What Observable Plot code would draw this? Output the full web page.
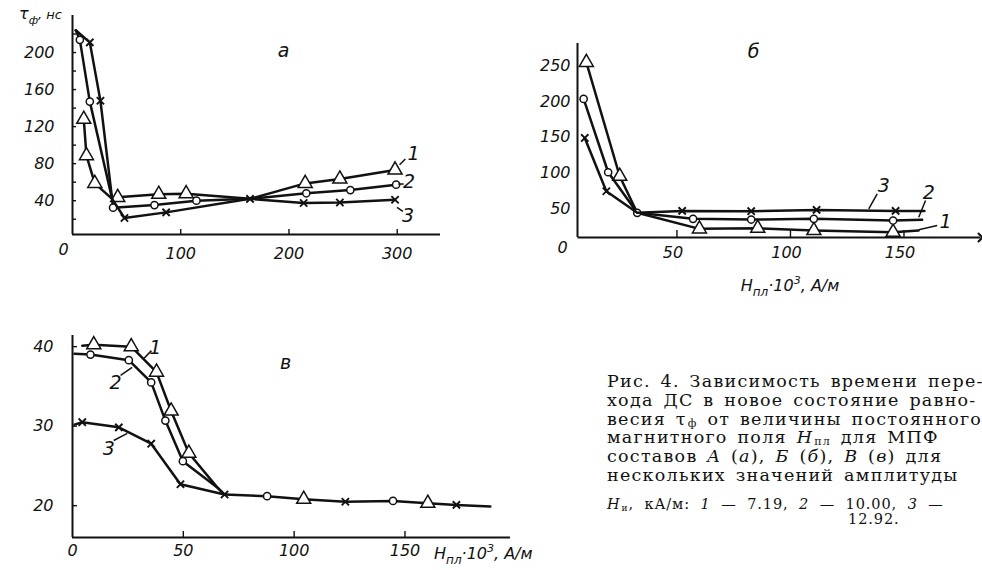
<!DOCTYPE html>
<html><head><meta charset="utf-8">
<script src="https://cdn.jsdelivr.net/npm/d3@7"></script>
<script src="https://cdn.jsdelivr.net/npm/@observablehq/plot@0.6"></script>
<style>
html,body{margin:0;padding:0;background:#fff;overflow:hidden;}
#wrap{position:relative;width:982px;height:570px;overflow:hidden;background:#fff;}
.panel{position:absolute;}
#caption{position:absolute;left:607px;top:372px;font-family:"DejaVu Serif",serif;font-size:17.5px;line-height:18.8px;color:#111;white-space:nowrap;letter-spacing:1.25px;word-spacing:3px;}
#caption .i{font-style:italic;}
#caption sub{font-size:11px;vertical-align:-2px;line-height:0;margin-left:1px;}
#note{position:absolute;left:607px;top:497px;font-family:"DejaVu Serif",serif;font-size:14.5px;line-height:15px;color:#111;white-space:nowrap;letter-spacing:0.9px;word-spacing:5px;}
#note sub{font-size:9px;vertical-align:-2px;line-height:0;margin-left:1px;}
</style></head>
<body><div id="wrap">
<div id="pa" class="panel" style="left:0;top:0"></div>
<div id="pb" class="panel" style="left:500px;top:0"></div>
<div id="pc" class="panel" style="left:0;top:320px"></div>
<div id="caption">
<div>Рис. 4. Зависимость времени пере-</div>
<div>хода ДС в новое состояние равно-</div>
<div>весия τ<sub>ф</sub> от величины постоянного</div>
<div>магнитного поля <span class="i">H</span><sub>пл</sub> для МПФ</div>
<div>составов <span class="i">A</span> (<span class="i">а</span>), <span class="i">Б</span> (<span class="i">б</span>), <span class="i">В</span> (<span class="i">в</span>) для</div>
<div>нескольких значений амплитуды</div>
</div>
<div id="note">
<div><i>H</i><sub>и</sub>, кА/м: <i>1</i> — 7.19, <i>2</i> — 10.00, <i>3</i> —</div>
<div style="padding-left:241px">12.92.</div>
</div>
</div>
<script>
// ---------- Panel а ----------
const aX1 = [10.4, 12.9, 20.6, 36.6, 41.8, 79.7, 105, 164, 215, 247, 298];
const aY1 = [128, 88.6, 58.7, 42, 43.6, 47, 47.6, 42, 58.7, 63.4, 73.2];
const aM1 = [1, 1, 1, 0, 1, 1, 1, 0, 1, 1, 1];
const aX2 = [3, 6.8, 16, 36.6, 37.5, 75.7, 114.5, 164, 216, 256.7, 299];
const aY2 = [224, 213.7, 147, 42, 32.5, 35.3, 40, 42, 48, 51.5, 57.3];
const aM2 = [0, 1, 1, 0, 1, 1, 1, 0, 1, 1, 1];
const aX3 = [3, 16, 25.8, 36.6, 48, 86.5, 164, 213.6, 247, 298];
const aY3 = [224, 211, 148, 42, 21.3, 27.4, 42, 37.5, 38, 41];
const aM3 = [0, 1, 1, 0, 1, 1, 1, 1, 1, 1];
const aXTicks = [100, 200, 300];
const aYTicks = [40, 80, 120, 160, 200];
const aYMinor = [20, 40, 60, 80, 100, 120, 140, 160, 180, 200, 220];
const aLabelText = ["1", "2", "3", "а"];
const aLabelX = [315, 311, 310, 195];
const aLabelY = [90.5, 60.5, 23.8, 202];
const aLeadX1 = [302.2, 301, 299.8];
const aLeadY1 = [78.9, 58, 32.8];
const aLeadX2 = [307.5, 306, 305.3];
const aLeadY2 = [85, 58, 28.4];

// ---------- Panel б ----------
const bX1 = [10.1, 24.8, 32.5, 59.9, 85.6, 110.3, 145.2, 156.4];
const bY1 = [254.6, 95.4, 44.3, 21.9, 22.8, 19.5, 17.2, 19.5];
const bM1 = [1, 1, 0, 1, 1, 1, 1, 0];
const bX2 = [8.9, 19.7, 32.5, 57.1, 82.7, 110.3, 145.2, 158];
const bY2 = [203.5, 101, 44.3, 35.9, 34.9, 35.9, 33.5, 34.5];
const bM2 = [1, 1, 1, 1, 1, 1, 1, 0];
const bX3 = [9.4, 18.9, 32.5, 52.3, 82.7, 111.5, 146.3, 159];
const bY3 = [149, 74.5, 44.3, 47, 46.6, 48.4, 47, 47];
const bM3 = [1, 1, 0, 1, 1, 1, 1, 0];
const bXTicks = [50, 100, 150];
const bYTicks = [50, 100, 150, 200, 250];
const bLabelText = ["3", "2", "1", "б"];
const bLabelX = [141.1, 160.9, 168.3, 83.8];
const bLabelY = [82.4, 72.2, 31.2, 268.6];
const bLeadX1 = [134.5, 156.5, 156.5];
const bLeadY1 = [49.9, 38.1, 20.5];
const bLeadX2 = [138.2, 159.5, 164.6];
const bLeadY2 = [70.8, 61.5, 26.5];

// ---------- Panel в ----------
const cX1 = [4.4, 9.6, 26.5, 37.9, 44.5, 52.5, 65.3, 68.6];
const cY1 = [40.1, 40.25, 40, 36.8, 31.9, 26.6, 22.3, 21.4];
const cM1 = [0, 1, 1, 1, 1, 1, 0, 0];
const cX2 = [0.9, 8.1, 25.4, 35.5, 41.9, 49.8, 65.3, 68.6];
const cY2 = [39.1, 39, 38.3, 35.5, 30.7, 25.6, 22.3, 21.4];
const cM2 = [0, 1, 1, 1, 1, 1, 0, 0];
const cX3 = [0.9, 4.4, 20.9, 35.5, 48.7, 68.6];
const cY3 = [30.2, 30.5, 29.85, 27.8, 22.7, 21.4];
const cM3 = [0, 1, 1, 1, 1, 1];
const cTailX = [68.6, 87.8, 104.3, 123.1, 144.6, 160.3, 173.2, 188.5];
const cTailY = [21.4, 21.2, 20.8, 20.5, 20.6, 20.3, 20.1, 19.9];
const cTailS = ["", "circle", "triangle", "times", "circle", "triangle", "times", ""];
const cXTicks = [0, 50, 100, 150];
const cYTicks = [20, 30, 40];
const cLabelText = ["1", "2", "3", "в"];
const cLabelX = [37.4, 19.4, 16.4, 96.1];
const cLabelY = [39.9, 35.5, 27.1, 38];
const cLeadX1 = [32.2, 21.7, 18.6];
const cLeadY1 = [38.5, 36.4, 28.2];
const cLeadX2 = [35.6, 26.9, 24.7];
const cLeadY2 = [39.5, 37.4, 29.1];

const FONT = "DejaVu Sans";
const pts = (xs, ys, ms) => xs.map((x, i) => ({x, y: ys[i], m: ms ? ms[i] : 1}));
const labels = (t, xs, ys) => t.map((s, i) => ({t: s, x: xs[i], y: ys[i]}));
const leads = (x1, y1, x2, y2) => x1.map((v, i) => ({x1: v, y1: y1[i], x2: x2[i], y2: y2[i]}));
const SYM = {triangle: {r: 5.2, fill: "white", sw: 1.5}, circle: {r: 3.6, fill: "white", sw: 1.5}, times: {r: 3.4, fill: "none", sw: 1.9}};

function dotsOf(d, symbol) {
  const s = SYM[symbol];
  return Plot.dot(d, {x: "x", y: "y", symbol, r: s.r, fill: s.fill, stroke: "#111", strokeWidth: s.sw});
}
function seriesMarks(xs, ys, ms, symbol) {
  const d = pts(xs, ys, ms);
  return [
    Plot.line(d, {x: "x", y: "y", stroke: "#111", strokeWidth: 2.5}),
    dotsOf(d.filter(p => p.m), symbol)
  ];
}
function annot(lab, lead) {
  return [
    Plot.link(lead, {x1: "x1", y1: "y1", x2: "x2", y2: "y2", stroke: "#111", strokeWidth: 1.5}),
    Plot.text(lab, {x: "x", y: "y", text: "t", fontSize: 19, fontStyle: "italic", fontFamily: FONT, fill: "#111"})
  ];
}
const baseStyle = {fontFamily: FONT, fontStyle: "italic", fontSize: "16px", color: "#111", background: "transparent", overflow: "visible"};

// Panel а
const aXD = [0, 340], aYD = [3.5, 240];
const pa = Plot.plot({
  width: 460, height: 270, marginLeft: 72, marginRight: 20, marginTop: 15, marginBottom: 36,
  x: {domain: aXD, label: null}, y: {domain: aYD, label: null},
  style: baseStyle,
  marks: [
    Plot.ruleX([aXD[0]], {stroke: "#111", strokeWidth: 2}),
    Plot.ruleY([aYD[0]], {stroke: "#111", strokeWidth: 2}),
    Plot.axisY(aYMinor, {tickSize: 4, dx: 4, text: null, label: null, strokeWidth: 1.4}),
    Plot.axisY(aYTicks, {tickSize: 0, tickPadding: 18, label: null, fontSize: 16}),
    Plot.axisX(aXTicks, {tickSize: 5, dy: -5, text: null, label: null, strokeWidth: 1.4}),
    Plot.axisX(aXTicks, {tickSize: 0, tickPadding: 13, label: null, fontSize: 16}),
    Plot.text(["0"], {frameAnchor: "bottom-left", dx: -14, dy: 20, fontSize: 16}),
    ...seriesMarks(aX1, aY1, aM1, "triangle"),
    ...seriesMarks(aX2, aY2, aM2, "circle"),
    ...seriesMarks(aX3, aY3, aM3, "times"),
    ...annot(labels(aLabelText, aLabelX, aLabelY), leads(aLeadX1, aLeadY1, aLeadX2, aLeadY2))
  ]
});
document.getElementById("pa").append(pa);
d3.select(pa).append("text").attr("x", 19).attr("y", 19).attr("text-anchor", "start")
  .attr("font-family", FONT).attr("font-style", "italic").attr("font-size", 16).attr("fill", "#111")
  .call(t => { t.append("tspan").text("τ"); t.append("tspan").attr("dy", 5).attr("font-size", 11).text("ф");
               t.append("tspan").attr("dy", -5).attr("font-size", 13).text(", нс"); });

// Panel б
const bXD = [6.2, 183.7], bYD = [9.8, 281];
const pb = Plot.plot({
  width: 482, height: 300, marginLeft: 77, marginRight: 2, marginTop: 43, marginBottom: 63,
  x: {domain: bXD, label: null}, y: {domain: bYD, label: null},
  style: baseStyle,
  marks: [
    Plot.ruleX([bXD[0]], {stroke: "#111", strokeWidth: 2}),
    Plot.link([{x1: bXD[0], x2: bXD[1], y: bYD[0]}], {x1: "x1", x2: "x2", y1: "y", y2: "y", stroke: "#111", strokeWidth: 2, markerEnd: "arrow"}),
    Plot.axisX(bXTicks, {tickSize: 7, dy: -7, text: null, label: null, strokeWidth: 1.4}),
    Plot.axisX(bXTicks, {tickSize: 0, tickPadding: 9, dx: -4, label: null, fontSize: 16}),
    Plot.axisY(bYTicks, {tickSize: 0, tickPadding: 7, label: null, fontSize: 16}),
    Plot.text(["0"], {frameAnchor: "bottom-left", dx: -20, dy: 15, fontSize: 16}),
    ...seriesMarks(bX1, bY1, bM1, "triangle"),
    ...seriesMarks(bX2, bY2, bM2, "circle"),
    ...seriesMarks(bX3, bY3, bM3, "times"),
    ...annot(labels(bLabelText, bLabelX, bLabelY), leads(bLeadX1, bLeadY1, bLeadX2, bLeadY2))
  ]
});
document.getElementById("pb").append(pb);
function hTitle(sel, x, y, anchor) {
  sel.append("text").attr("x", x).attr("y", y).attr("text-anchor", anchor)
    .attr("font-family", FONT).attr("font-style", "italic").attr("font-size", 16).attr("fill", "#111")
    .call(t => { t.append("tspan").text("H"); t.append("tspan").attr("dy", 5).attr("font-size", 12).text("пл");
                 t.append("tspan").attr("dy", -5).text("·10"); t.append("tspan").attr("dy", -7).attr("font-size", 11).text("3");
                 t.append("tspan").attr("dy", 7).text(", А/м"); });
}
hTitle(d3.select(pb), 290, 291, "middle");

// Panel в
const cXD = [0, 197.6], cYD = [16, 41.4];
const tail = cTailX.map((x, i) => ({x, y: cTailY[i], s: cTailS[i]}));
const pc = Plot.plot({
  width: 540, height: 250, marginLeft: 72, marginRight: 30, marginTop: 15, marginBottom: 33,
  x: {domain: cXD, label: null}, y: {domain: cYD, label: null},
  style: baseStyle,
  marks: [
    Plot.ruleX([cXD[0]], {stroke: "#111", strokeWidth: 2}),
    Plot.ruleY([cYD[0]], {stroke: "#111", strokeWidth: 2}),
    Plot.axisY(cYTicks, {tickSize: 5, dx: 5, text: null, label: null, strokeWidth: 1.4}),
    Plot.axisY(cYTicks, {tickSize: 0, tickPadding: 19, label: null, fontSize: 16}),
    Plot.axisX(cXTicks.slice(1), {tickSize: 6, dy: -6, text: null, label: null, strokeWidth: 1.4}),
    Plot.axisX(cXTicks, {tickSize: 0, tickPadding: 7, label: null, fontSize: 16}),
    ...seriesMarks(cX1, cY1, cM1, "triangle"),
    ...seriesMarks(cX2, cY2, cM2, "circle"),
    ...seriesMarks(cX3, cY3, cM3, "times"),
    Plot.line(tail, {x: "x", y: "y", stroke: "#111", strokeWidth: 2.5}),
    dotsOf(tail.filter(d => d.s === "circle"), "circle"),
    dotsOf(tail.filter(d => d.s === "triangle"), "triangle"),
    dotsOf(tail.filter(d => d.s === "times"), "times"),
    ...annot(labels(cLabelText, cLabelX, cLabelY), leads(cLeadX1, cLeadY1, cLeadX2, cLeadY2))
  ]
});
document.getElementById("pc").append(pc);
hTitle(d3.select(pc), 434, 239, "start");
</script>
</body></html>
